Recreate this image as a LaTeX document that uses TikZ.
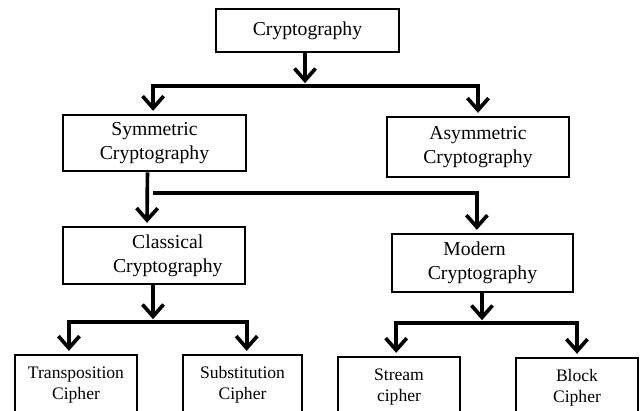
\documentclass[tikz,border=0pt]{standalone}
\usepackage{fontspec}
\setmainfont{Liberation Serif}
\usepackage{tikz}
\usetikzlibrary{arrows.meta}

\tikzset{
  box/.style={draw, line width=1.9pt, align=center, inner sep=2pt,
    font=\fontsize{14}{17}\selectfont},
  leafbox/.style={box, minimum width=3.05cm, minimum height=1.5cm,
    font=\fontsize{12.5}{15}\selectfont},
  conn/.style={line width=2.6pt},
  arr/.style={conn, shorten >=2pt, -{Straight Barb[length=8.5pt,width=15pt]}},
}

\begin{document}
\begin{tikzpicture}[x=0.025cm, y=-0.025cm]
  \useasboundingbox (0,0) rectangle (640,410);
  \clip (0,0) rectangle (640,410);
  \begin{scope}
    % boxes
    \node[box, minimum width=4.575cm, minimum height=1.075cm] (crypto) at (307.5,30.5) {Cryptography};
    \node[box, minimum width=4.575cm, minimum height=1.4cm] (sym) at (154.5,143) {Symmetric\\Cryptography};
    \node[box, minimum width=4.55cm, minimum height=1.5cm] (asym) at (478,147) {Asymmetric\\Cryptography};
    \node[box, minimum width=4.55cm, minimum height=1.425cm] (classical) at (154,255.5) {\hspace*{1.4em}Classical\\\hspace*{1.4em}Cryptography};
    \node[box, minimum width=4.525cm, minimum height=1.45cm] (modern) at (482.5,263) {Modern\hspace*{0.8em}\\Cryptography};
    \node[leafbox] (trans) at (76,385) {Transposition\\Cipher};
    \node[leafbox, minimum width=2.975cm] (subst) at (242.5,385) {Substitution\\Cipher};
    \node[leafbox] (stream) at (399,387) {Stream\\cipher};
    \node[leafbox] (block) at (577,388) {Block\\Cipher};

    % junctions
    \coordinate (j1) at (305,86);
    \coordinate (j2) at (153,193);
    \coordinate (j3) at (153,322);
    \coordinate (j4) at (482,323);

    % connectors
    \draw[arr] (crypto.south -| j1) -- (j1);
    \draw[arr] (j1) -| ([xshift=-1pt]sym.north);
    \draw[arr] (j1) -| (asym.north);

    \draw[arr] ([xshift=-5pt]sym.south) -- ([xshift=-5pt]classical.north);
    \draw[arr] (j2) -| ([xshift=-4pt]modern.north);

    \draw[arr] (classical.south -| j3) -- (j3);
    \draw[arr] (j3) -| ([xshift=-5pt]trans.north);
    \draw[arr] (j3) -| ([xshift=3pt]subst.north);

    \draw[arr] (modern.south -| j4) -- (j4);
    \draw[arr] (j4) -| ([xshift=-2pt]stream.north);
    \draw[arr] (j4) -| (block.north);
  \end{scope}
\end{tikzpicture}
\end{document}
